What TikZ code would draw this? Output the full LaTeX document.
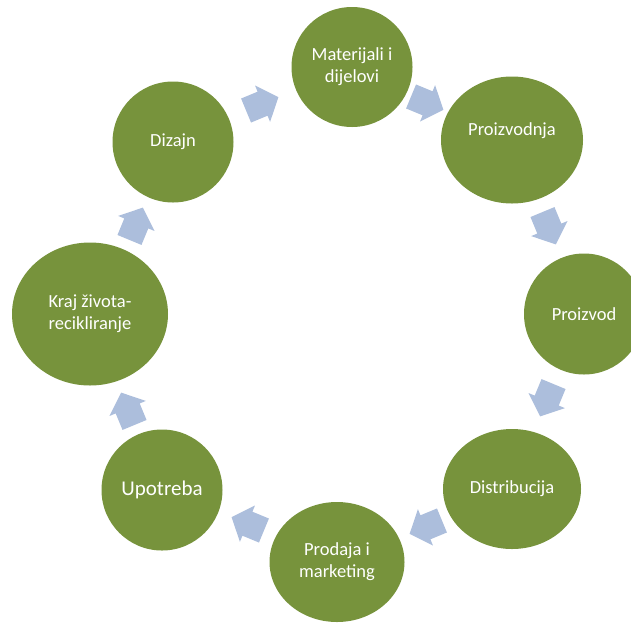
\documentclass[tikz,border=0pt]{standalone}
\usepackage{fontspec}
\setmainfont{Carlito}
\usetikzlibrary{shapes.geometric,shapes.arrows}
\definecolor{leaf}{RGB}{119,147,60}
\definecolor{flow}{RGB}{172,190,220}

\begin{document}
\begin{tikzpicture}[x=1pt,y=-1pt,
    stage/.style={ellipse, fill=leaf, text=white, inner sep=0pt, align=center,
      font=\fontsize{18.5}{22}\selectfont},
    flowarrow/.style={single arrow, fill=flow, inner xsep=0pt, inner ysep=12.8pt,
      minimum height=35pt, minimum width=39pt, single arrow head extend=6.7pt,
      single arrow tip angle=98}]
      \useasboundingbox (0,0) rectangle (631,622);

      % stages
      \node (mat) at (352,67) [stage, minimum width=121, minimum height=120] {Materijali i\\dijelovi};
      \node (pzn) at (512,140) [stage, minimum width=142, minimum height=127,
        label={[text=white, font=\fontsize{18.5}{22}\selectfont, yshift=9pt]center:Proizvodnja}] {};
      \node (pzd) at (584,314) [stage, minimum width=120, minimum height=121] {Proizvod};
      \node (dis) at (512,489) [stage, minimum width=138, minimum height=120] {Distribucija};
      \node (pro) at (337,562) [stage, minimum width=135, minimum height=120] {Prodaja i\\marketing};
      \node (upo) at (162,490) [stage, minimum width=121, minimum height=121,
        font=\fontsize{21}{25}\selectfont] {Upotreba};
      \node (kra) at (90,314) [stage, minimum width=156, minimum height=143] {Kraj života-\\recikliranje};
      \node (diz) at (173,142) [stage, minimum width=121, minimum height=121] {Dizajn};

      % arrows
      \node (a1) at (422,101) [flowarrow, rotate=-22.5] {};
      \node (a2) at (547,223) [flowarrow, rotate=-67.5] {};
      \node (a3) at (549,395) [flowarrow, rotate=-112.5] {};
      \node (a4) at (431,525) [flowarrow, rotate=-157.5] {};
      \node (a5) at (253,526) [flowarrow, rotate=157.5] {};
      \node (a6) at (130,414) [flowarrow, rotate=112.5] {};
      \node (a7) at (134,229) [flowarrow, rotate=67.5] {};
      \node (a8) at (257,106) [flowarrow, rotate=22.5] {};
\end{tikzpicture}
\end{document}
